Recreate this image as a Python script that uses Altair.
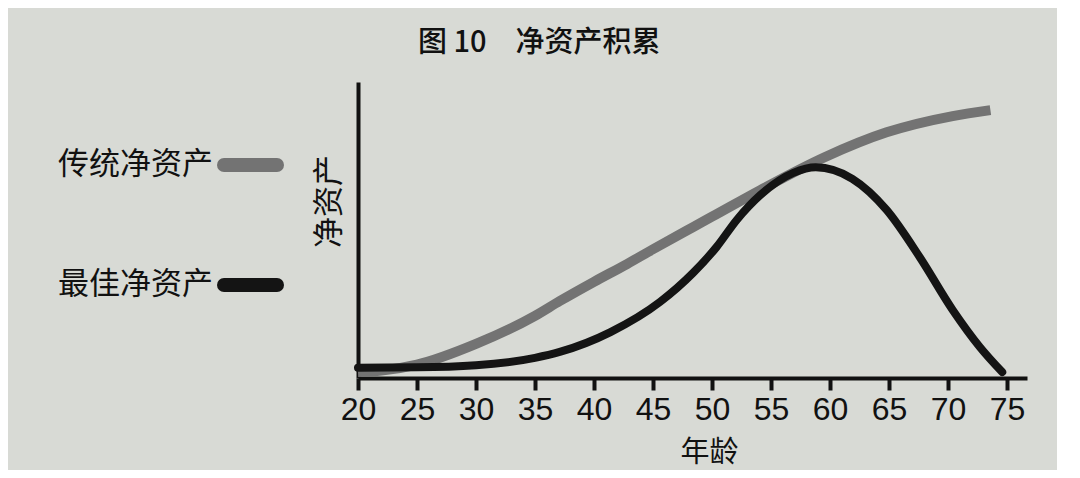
import altair as alt
import pandas as pd

# ---- data ----
ages_trad = [20, 22, 25, 30, 35, 37.1, 40, 42.8, 45, 48.4, 50, 54.1, 59.5, 64.8, 70.4, 73.6]
vals_trad = [2.0, 2.5, 4.5, 11.5, 21.0, 26.0, 32.5, 38.5, 43.5, 51.0, 54.5, 63.5, 74.5, 83.0, 88.5, 90.5]

ages_best = [20, 25, 30, 35, 37.1, 41.4, 45.6, 48.4, 50.4, 52.1, 54.1, 56.9, 58.8,
             61.9, 64.8, 67.6, 70.4, 72.7, 74.6]
vals_best = [3.5, 3.6, 4.3, 6.8, 8.8, 15.5, 25.7, 35.5, 44.3, 53.4, 61.8, 69.3, 71.2,
             67.3, 56.8, 40.9, 23.0, 10.5, 2.0]

series_names = ["传统净资产", "最佳净资产"]
series_colors = ["#737373", "#141414"]
x_ticks = [20, 25, 30, 35, 40, 45, 50, 55, 60, 65, 70, 75]

title_text = "图 10\u3000净资产积累"
x_title = "年龄"
y_title = "净资产"

BG = "#d8dad5"
CJK = "Noto Sans CJK SC"

df = pd.DataFrame(
    [{"age": a, "value": v, "series": series_names[0]} for a, v in zip(ages_trad, vals_trad)]
    + [{"age": a, "value": v, "series": series_names[1]} for a, v in zip(ages_best, vals_best)]
)

x_enc = alt.X(
    "age:Q",
    scale=alt.Scale(domain=[20, 76.7], nice=False, zero=False),
    axis=alt.Axis(
        values=x_ticks, title=x_title, grid=False,
        domainColor="#111", domainWidth=4,
        tickColor="#111", tickWidth=4, tickSize=12,
        labelFont="Liberation Sans", labelFontSize=32, labelColor="#111",
        labelPadding=4, labelFlush=False,
        titleFont=CJK, titleFontSize=29, titleColor="#111", titleFontWeight="normal",
        titleX=351, titleY=74, titleBaseline="middle", titleAlign="center",
    ),
)
y_enc = alt.Y(
    "value:Q",
    scale=alt.Scale(domain=[0, 100], nice=False),
    axis=alt.Axis(
        title=y_title, grid=False, ticks=False, labels=False,
        domainColor="#111", domainWidth=4,
        titleFont=CJK, titleFontSize=31, titleColor="#111", titleFontWeight="normal",
        titleAngle=270, titleX=-29, titleY=119, titleBaseline="middle", titleAlign="center",
    ),
)
color_enc = alt.Color(
    "series:N",
    scale=alt.Scale(domain=series_names, range=series_colors),
    legend=None,
)

gray_line = alt.Chart(df).transform_filter(
    alt.datum.series == series_names[0]
).mark_line(strokeWidth=10, interpolate="monotone", strokeCap="butt").encode(
    x=x_enc, y=y_enc, color=color_enc
)
black_line = alt.Chart(df).transform_filter(
    alt.datum.series == series_names[1]
).mark_line(strokeWidth=8, interpolate="monotone", strokeCap="round").encode(
    x=x_enc, y=y_enc, color=color_enc
)

# legend (labels left of swatches, as in the reference)
leg_df = pd.DataFrame({"series": series_names})
leg_rows_y = [83, 203]
legend_layers = []
for name, col, yy in zip(series_names, series_colors, leg_rows_y):
    sub = alt.Chart(leg_df).transform_filter(alt.datum.series == name)
    legend_layers.append(
        sub.mark_text(font=CJK, fontSize=31, align="right", baseline="middle", color="#111").encode(
            text="series:N", x=alt.value(-145), y=alt.value(yy)
        )
    )
    legend_layers.append(
        sub.mark_rule(strokeWidth=14, strokeCap="round", color=col).encode(
            x=alt.value(-134), x2=alt.value(-81), y=alt.value(yy)
        )
    )

chart = alt.layer(gray_line, black_line, *legend_layers).properties(
    width=669,
    height=296,
    padding={"left": 350, "top": 74, "right": 30, "bottom": 92},
    autosize=alt.AutoSizeParams(type="none"),
    background=BG,
    title=alt.TitleParams(
        text=title_text, anchor="start", frame="group", dx=60, offset=24,
        font=CJK, fontSize=29, fontWeight=500, color="#111",
    ),
).configure_view(stroke=None)

chart.save("out.html", embed_options={"renderer": "svg", "actions": False})
